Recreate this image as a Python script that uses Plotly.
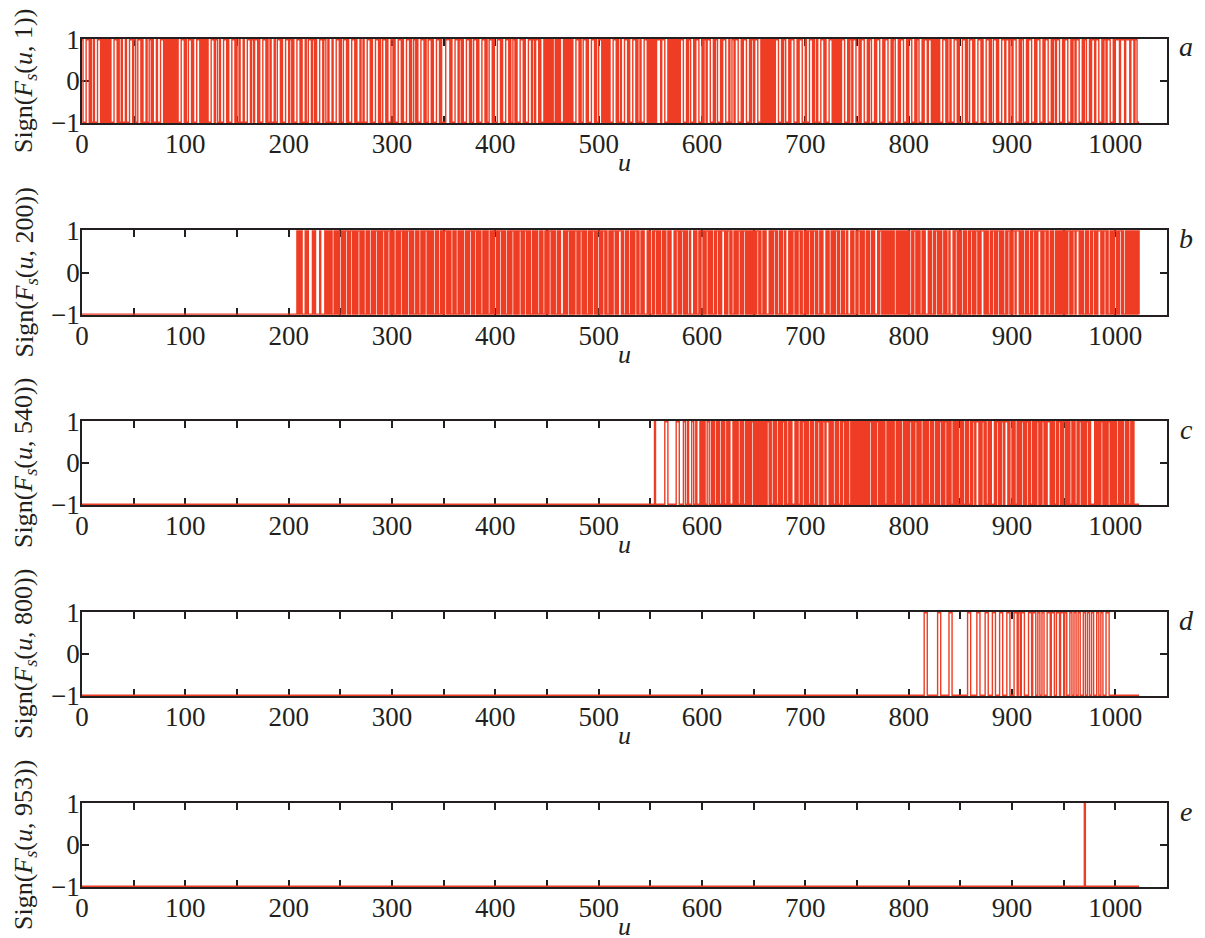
import plotly.graph_objects as go

# ---------------- data ----------------
N_SAMPLES = 1024
PANEL_LETTERS = ["a", "b", "c", "d", "e"]
PANEL_V = ["1", "200", "540", "800", "953"]
X_TICK_VALUES = list(range(0, 1001, 100))
X_TICK_LABELS = [str(v) for v in X_TICK_VALUES]
X_MINOR_STEP = 50
Y_TICK_VALUES = [-1, 0, 1]
Y_TICK_LABELS = ["\u22121", "0", "1"]

# Each panel: LEAD samples at -1, then alternating runs (+1 first), each run
# length written as one base-36 digit, then TAIL samples at -1.
A_LEAD = 0
A_RUNS = ("1331121331" "11111111" "1331121313312231131221131331" "11"
          "1111111111" "13311231" "1331" "111111"
          "13312213311331121313312131133112" "131231133121"
          "1331131231211331221313311231133113121331" "133112311321"
          "13311331122113311231" "1331" "14" "41"
          "13312113311231133112311331" "1331122113311331213113"
          "11111111" "12" "1111" "13" "11111111" "133112311331" "1231"
          "111111" "1331121331133112" "13311" "111111" "14" "1331"
          "1111111111" "13311231133112" "133112311331221331133112"
          "1331" "1111" "11111111" "1331123113" "31133"
          "1331121331" "13311" "111111" "1331121331133112311331"
          "133112311331" "1331123113" "131" "111111"
          "1331121331133112311331" "13311231133" "1312"
          "1331123113311331" "1331121331133112" "1331123113"
          "1331121331" "14" "14" "14" "13" "12" "3")
A_TAIL = 0

B_LEAD = 208
B_RUNS = ("111113111411141411111112111112"
          "11112" "1112" "111112" "11112" "1112" "11112" "111112" "1112" "11112" "11112"
          "111112" "11112" "1112" "11112" "1111112" "1112" "11112" "11112" "1112" "111112"
          "11112" "1112" "11112" "111112" "11112" "1112" "11112" "11112" "111112" "1112"
          "11112" "111112" "1112" "11112" "11112" "1113" "11112" "111112" "1112" "11112" "11112"
          "1112"
          "1112" "112" "11112" "1113" "112" "1112" "11112" "112" "1113" "1112"
          "112" "11112" "1112" "1113" "112" "1112" "11112" "13" "1112" "112"
          "1112" "11112" "112" "1113" "1112" "112" "11112" "1112"
          "11111111"
          "1112" "112" "1113" "11112" "112" "1112" "13" "11112" "1112" "112"
          "11112" "1112" "112" "1113" "1112" "11112" "112" "1112" "13" "1112"
          "112" "11112" "1112" "1113" "112"
          "111111111111" "2" "1111111111"
          "1112" "112" "11112" "1113" "1112" "112" "11112" "1112" "13" "112"
          "11112" "1112" "112" "1112" "1113" "11112" "112" "1112" "11112" "112"
          "1112" "13" "11112" "1112" "112" "1113" "1112" "112"
          "1112" "1111111111"
          "112" "1112" "13" "11112" "1112" "112" "1113" "1112" "112" "11112" "1112" "112"
          "11111111111111")
B_TAIL = 0

C_LEAD = 554
C_RUNS = ("19383422" "132213" "11111" "222" "111" "2" "111" "2" "111" "2"
          "111" "3" "11111" "2" "111" "2"
          "111111" "2" "1111111111"
          "1112" "112" "1112" "11112" "112" "1113" "1112" "112" "11112" "1112"
          "112" "1112" "13" "11112" "1112" "112" "11112" "111"
          "111111111"
          "1111112" "111112" "1111112" "11111112" "111112" "11"
          "11112" "1112" "11112" "111112" "1112" "11112" "1112" "11112" "111112" "1112"
          "1112" "112" "13" "1112" "112" "1113" "112" "1112" "13" "112" "1112"
          "11112" "1112" "112" "11112" "1112" "1113" "11112" "112" "1112" "11112"
          "1112" "112" "111112" "11"
          "4"
          "1111112" "111112" "1111112" "111112" "1112" "111" "1")
C_TAIL = 5

D_LEAD = 815
D_RUNS = ("3a38" "3f36" "3534" "3434" "3431" "2134" "3132" "2223"
          "3132" "3131" "2322" "2223" "2222" "2322" "233")
D_TAIL = 30

E_LEAD = 970
E_RUNS = "1"
E_TAIL = 53

PANELS = [(A_LEAD, A_RUNS, A_TAIL), (B_LEAD, B_RUNS, B_TAIL),
          (C_LEAD, C_RUNS, C_TAIL), (D_LEAD, D_RUNS, D_TAIL),
          (E_LEAD, E_RUNS, E_TAIL)]


def decode(lead, runs, tail):
    seq = [-1] * lead
    s = 1
    for ch in runs:
        seq += [s] * int(ch, 36)
        s = -s
    seq += [-1] * tail
    return seq[:N_SAMPLES]


# ---------------- styling / layout ----------------
W, H = 1205, 938
RED = "#ee3d24"
INK = "#231f20"
SERIF = "Liberation Serif, Times New Roman, serif"
X_LEFT_PX, X_RIGHT_PX = 82, 1167
TOPS_PX = [39, 230, 421, 612, 803]
BOTS_PX = [123, 315, 505, 696, 887]
TICK_FONT = dict(family=SERIF, size=27, color=INK)
TITLE_FONT = dict(family=SERIF, size=26, color=INK)

fig = go.Figure()
layout = dict(
    width=W, height=H, template="none",
    margin=dict(l=0, r=0, t=0, b=0),
    paper_bgcolor="white", plot_bgcolor="white",
    font=dict(family=SERIF, size=26, color=INK),
    showlegend=False,
    annotations=[],
)

for i, (lead, runs, tail) in enumerate(PANELS):
    ys = decode(lead, runs, tail)
    xs = list(range(len(ys)))
    n = i + 1
    fig.add_trace(go.Scatter(
        x=xs, y=ys, mode="lines",
        line=dict(color=RED, width=1.4, shape="hv"),
        xaxis=f"x{n}", yaxis=f"y{n}", hoverinfo="skip"))
    ydom = [1 - BOTS_PX[i] / H, 1 - TOPS_PX[i] / H]
    xdom = [X_LEFT_PX / W, X_RIGHT_PX / W]
    layout[f"xaxis{n}"] = dict(
        domain=xdom, anchor=f"y{n}", range=[0, 1050],
        tickmode="array", tickvals=X_TICK_VALUES, ticktext=X_TICK_LABELS,
        ticks="inside", ticklen=7, tickwidth=1.5, tickcolor=INK,
        minor=dict(dtick=X_MINOR_STEP, tick0=0, ticks="inside", ticklen=7,
                   tickwidth=1.5, tickcolor=INK, showgrid=False),
        showline=True, linecolor=INK, linewidth=1.5, mirror="ticks",
        showgrid=False, zeroline=False, layer="below traces",
        tickfont=TICK_FONT, ticklabelstandoff=-4, automargin=False,
    )
    layout[f"yaxis{n}"] = dict(
        domain=ydom, anchor=f"x{n}", range=[-1.02, 1.02],
        tickmode="array", tickvals=Y_TICK_VALUES, ticktext=Y_TICK_LABELS,
        ticks="inside", ticklen=7, tickwidth=1.5, tickcolor=INK,
        showline=True, linecolor=INK, linewidth=1.5, mirror="ticks",
        showgrid=False, zeroline=False, layer="below traces",
        tickfont=TICK_FONT, ticklabelstandoff=-5, automargin=False,
    )
    # axis titles and panel letters
    layout["annotations"].append(dict(
        text="<i>u</i>", xref="paper", yref="paper",
        x=(X_LEFT_PX + X_RIGHT_PX) / 2 / W, y=1 - (BOTS_PX[i] + 39) / H,
        xanchor="center", yanchor="middle", showarrow=False, font=TITLE_FONT))
    layout["annotations"].append(dict(
        text=f"Sign(<i>F</i><sub><i>s</i></sub>(<i>u</i>, {PANEL_V[i]}))",
        xref="paper", yref="paper", textangle=-90,
        x=25 / W, y=1 - (TOPS_PX[i] + BOTS_PX[i]) / 2 / H,
        xanchor="center", yanchor="middle", showarrow=False, font=TITLE_FONT))
    layout["annotations"].append(dict(
        text=f"<i>{PANEL_LETTERS[i]}</i>", xref="paper", yref="paper",
        x=1186 / W, y=1 - (TOPS_PX[i] + 8) / H, xanchor="center", yanchor="middle",
        showarrow=False, font=dict(family=SERIF, size=28, color=INK)))

fig.update_layout(**layout)
fig.write_html(
    "out.html",
    config={"displayModeBar": False},
    post_script="document.body.style.margin='0';document.body.style.overflow='hidden';",
)
